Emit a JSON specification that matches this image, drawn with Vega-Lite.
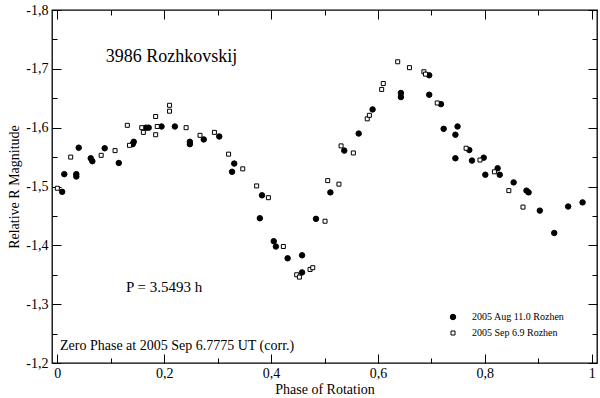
{
  "$schema": "https://vega.github.io/schema/vega-lite/v6.json",
  "width": 545,
  "height": 353,
  "autosize": {"type": "none"},
  "padding": {"left": 52, "top": 10, "right": 3, "bottom": 35},
  "background": "white",
  "config": {
    "view": {"stroke": "black", "strokeWidth": 1.3},
    "axis": {
      "domain": false,
      "grid": false,
      "labelFont": "Liberation Serif",
      "titleFont": "Liberation Serif",
      "labelFontSize": 14,
      "titleFontSize": 14,
      "titleFontWeight": "normal",
      "labelColor": "black",
      "titleColor": "black",
      "tickColor": "black",
      "tickWidth": 1
    },
    "legend": {
      "orient": "none",
      "legendX": 396,
      "legendY": 302,
      "padding": 0,
      "rowPadding": 6,
      "labelOffset": 14,
      "labelFont": "Liberation Serif",
      "labelFontSize": 10,
      "labelColor": "black",
      "symbolStrokeColor": "black",
      "symbolStrokeWidth": 1,
      "symbolOpacity": 1,
      "title": null
    }
  },
  "datasets": {
    "aug": [
      {"phase": 0.009, "mag": -1.491}, {"phase": 0.013, "mag": -1.521}, {"phase": 0.0355, "mag": -1.521}, {"phase": 0.0355, "mag": -1.517},
      {"phase": 0.040, "mag": -1.566}, {"phase": 0.0625, "mag": -1.548}, {"phase": 0.0655, "mag": -1.543}, {"phase": 0.0886, "mag": -1.565},
      {"phase": 0.115, "mag": -1.540}, {"phase": 0.141, "mag": -1.572}, {"phase": 0.143, "mag": -1.576}, {"phase": 0.166, "mag": -1.600},
      {"phase": 0.171, "mag": -1.600}, {"phase": 0.195, "mag": -1.602}, {"phase": 0.220, "mag": -1.602}, {"phase": 0.248, "mag": -1.576},
      {"phase": 0.248, "mag": -1.572}, {"phase": 0.274, "mag": -1.580}, {"phase": 0.303, "mag": -1.585}, {"phase": 0.327, "mag": -1.525},
      {"phase": 0.331, "mag": -1.539}, {"phase": 0.383, "mag": -1.485}, {"phase": 0.379, "mag": -1.446}, {"phase": 0.405, "mag": -1.407},
      {"phase": 0.409, "mag": -1.398}, {"phase": 0.431, "mag": -1.378}, {"phase": 0.458, "mag": -1.383}, {"phase": 0.458, "mag": -1.354},
      {"phase": 0.484, "mag": -1.445}, {"phase": 0.511, "mag": -1.490}, {"phase": 0.537, "mag": -1.561}, {"phase": 0.564, "mag": -1.590},
      {"phase": 0.590, "mag": -1.631}, {"phase": 0.643, "mag": -1.659}, {"phase": 0.643, "mag": -1.652}, {"phase": 0.696, "mag": -1.689},
      {"phase": 0.696, "mag": -1.656}, {"phase": 0.718, "mag": -1.640}, {"phase": 0.723, "mag": -1.598}, {"phase": 0.749, "mag": -1.602},
      {"phase": 0.745, "mag": -1.588}, {"phase": 0.745, "mag": -1.548}, {"phase": 0.771, "mag": -1.562}, {"phase": 0.776, "mag": -1.544},
      {"phase": 0.798, "mag": -1.549}, {"phase": 0.801, "mag": -1.520}, {"phase": 0.824, "mag": -1.531}, {"phase": 0.828, "mag": -1.520},
      {"phase": 0.854, "mag": -1.507}, {"phase": 0.878, "mag": -1.493}, {"phase": 0.882, "mag": -1.490}, {"phase": 0.903, "mag": -1.459},
      {"phase": 0.930, "mag": -1.421}, {"phase": 0.956, "mag": -1.466}, {"phase": 0.983, "mag": -1.473}
    ],
    "sep": [
      {"phase": 0.000, "mag": -1.497}, {"phase": 0.025, "mag": -1.550}, {"phase": 0.082, "mag": -1.553}, {"phase": 0.108, "mag": -1.561},
      {"phase": 0.131, "mag": -1.604}, {"phase": 0.135, "mag": -1.570}, {"phase": 0.158, "mag": -1.600}, {"phase": 0.161, "mag": -1.592},
      {"phase": 0.184, "mag": -1.619}, {"phase": 0.184, "mag": -1.588}, {"phase": 0.187, "mag": -1.602}, {"phase": 0.210, "mag": -1.638},
      {"phase": 0.210, "mag": -1.628}, {"phase": 0.241, "mag": -1.600}, {"phase": 0.267, "mag": -1.587}, {"phase": 0.294, "mag": -1.592},
      {"phase": 0.3205, "mag": -1.555}, {"phase": 0.347, "mag": -1.530}, {"phase": 0.373, "mag": -1.501}, {"phase": 0.395, "mag": -1.481},
      {"phase": 0.423, "mag": -1.398}, {"phase": 0.448, "mag": -1.350}, {"phase": 0.453, "mag": -1.346}, {"phase": 0.473, "mag": -1.359},
      {"phase": 0.478, "mag": -1.362}, {"phase": 0.501, "mag": -1.441}, {"phase": 0.506, "mag": -1.510}, {"phase": 0.527, "mag": -1.504},
      {"phase": 0.531, "mag": -1.569}, {"phase": 0.554, "mag": -1.557}, {"phase": 0.580, "mag": -1.615}, {"phase": 0.584, "mag": -1.621},
      {"phase": 0.607, "mag": -1.665}, {"phase": 0.610, "mag": -1.675}, {"phase": 0.637, "mag": -1.712}, {"phase": 0.659, "mag": -1.702},
      {"phase": 0.686, "mag": -1.695}, {"phase": 0.689, "mag": -1.691}, {"phase": 0.711, "mag": -1.642}, {"phase": 0.765, "mag": -1.565},
      {"phase": 0.791, "mag": -1.545}, {"phase": 0.818, "mag": -1.525}, {"phase": 0.845, "mag": -1.493}, {"phase": 0.8715, "mag": -1.465}
    ]
  },
  "layer": [
    {
      "data": {"name": "aug"},
      "mark": {"type": "point", "filled": true, "strokeWidth": 1, "opacity": 1},
      "encoding": {
        "x": {"field": "phase", "type": "quantitative",
          "scale": {"domain": [-0.01, 1.01], "nice": false, "zero": false},
          "axis": {"orient": "bottom", "values": [0, 0.2, 0.4, 0.6, 0.8, 1], "ticks": false, "labelPadding": 3,
            "labelExpr": "replace(format(datum.value, '~g'), '.', ',')", "title": "Phase of Rotation", "titlePadding": 2}},
        "y": {"field": "mag", "type": "quantitative",
          "scale": {"domain": [-1.8, -1.2], "nice": false, "zero": false, "reverse": true},
          "axis": {"orient": "left", "values": [-1.8, -1.7, -1.6, -1.5, -1.4, -1.3, -1.2], "ticks": false, "labelPadding": 4,
            "labelExpr": "(datum.value < 0 ? '-' : '') + replace(format(abs(datum.value), '.1f'), '.', ',')",
            "title": "Relative R Magnitude", "titlePadding": 4}},
        "shape": {"datum": "2005 Aug 11.0 Rozhen", "type": "nominal",
          "scale": {"domain": ["2005 Aug 11.0 Rozhen", "2005 Sep 6.9 Rozhen"], "range": ["circle", "square"]}},
        "fill": {"datum": "2005 Aug 11.0 Rozhen", "type": "nominal",
          "scale": {"domain": ["2005 Aug 11.0 Rozhen", "2005 Sep 6.9 Rozhen"], "range": ["black", "white"]}},
        "stroke": {"datum": "2005 Aug 11.0 Rozhen", "type": "nominal",
          "scale": {"domain": ["2005 Aug 11.0 Rozhen", "2005 Sep 6.9 Rozhen"], "range": ["black", "black"]}},
        "size": {"datum": "2005 Aug 11.0 Rozhen", "type": "nominal",
          "scale": {"domain": ["2005 Aug 11.0 Rozhen", "2005 Sep 6.9 Rozhen"], "range": [30, 16]}}
      }
    },
    {
      "data": {"name": "sep"},
      "mark": {"type": "point", "filled": true, "strokeWidth": 1, "opacity": 1},
      "encoding": {
        "x": {"field": "phase", "type": "quantitative",
          "scale": {"domain": [-0.01, 1.01], "nice": false, "zero": false},
          "axis": {"orient": "bottom", "values": [0, 0.2, 0.4, 0.6, 0.8, 1], "labels": false, "tickSize": -9, "title": null}},
        "y": {"field": "mag", "type": "quantitative",
          "scale": {"domain": [-1.8, -1.2], "nice": false, "zero": false, "reverse": true},
          "axis": {"orient": "left", "values": [-1.8, -1.7, -1.6, -1.5, -1.4, -1.3, -1.2], "labels": false, "tickSize": -9, "title": null}},
        "shape": {"datum": "2005 Sep 6.9 Rozhen", "type": "nominal",
          "scale": {"domain": ["2005 Aug 11.0 Rozhen", "2005 Sep 6.9 Rozhen"], "range": ["circle", "square"]}},
        "fill": {"datum": "2005 Sep 6.9 Rozhen", "type": "nominal",
          "scale": {"domain": ["2005 Aug 11.0 Rozhen", "2005 Sep 6.9 Rozhen"], "range": ["black", "white"]}},
        "stroke": {"datum": "2005 Sep 6.9 Rozhen", "type": "nominal",
          "scale": {"domain": ["2005 Aug 11.0 Rozhen", "2005 Sep 6.9 Rozhen"], "range": ["black", "black"]}},
        "size": {"datum": "2005 Sep 6.9 Rozhen", "type": "nominal",
          "scale": {"domain": ["2005 Aug 11.0 Rozhen", "2005 Sep 6.9 Rozhen"], "range": [30, 16]}}
      }
    },
    {
      "data": {"values": [{"label": "3986 Rozhkovskij", "phase": 0.2136, "mag": -1.7116}]},
      "mark": {"type": "text", "font": "Liberation Serif", "fontSize": 18, "align": "center", "baseline": "alphabetic", "color": "black"},
      "encoding": {
        "text": {"field": "label"},
        "x": {"field": "phase", "type": "quantitative",
          "scale": {"domain": [-0.01, 1.01], "nice": false, "zero": false},
          "axis": {"orient": "bottom", "values": [0.1, 0.3, 0.5, 0.7, 0.9], "labels": false, "tickSize": -5, "title": null}},
        "y": {"field": "mag", "type": "quantitative",
          "scale": {"domain": [-1.8, -1.2], "nice": false, "zero": false, "reverse": true},
          "axis": {"orient": "left", "values": [-1.75, -1.65, -1.55, -1.45, -1.35, -1.25], "labels": false, "tickSize": -5, "title": null}}
      }
    },
    {
      "data": {"values": [{"label": "P = 3.5493 h", "phase": 0.1285, "mag": -1.320}]},
      "mark": {"type": "text", "font": "Liberation Serif", "fontSize": 15, "align": "left", "baseline": "alphabetic", "color": "black"},
      "encoding": {
        "text": {"field": "label"},
        "x": {"field": "phase", "type": "quantitative",
          "scale": {"domain": [-0.01, 1.01], "nice": false, "zero": false},
          "axis": {"orient": "top", "values": [0, 0.2, 0.4, 0.6, 0.8, 1], "labels": false, "tickSize": -9, "title": null}},
        "y": {"field": "mag", "type": "quantitative",
          "scale": {"domain": [-1.8, -1.2], "nice": false, "zero": false, "reverse": true},
          "axis": {"orient": "right", "values": [-1.8, -1.7, -1.6, -1.5, -1.4, -1.3, -1.2], "labels": false, "tickSize": -9, "title": null}}
      }
    },
    {
      "data": {"values": [{"label": "Zero Phase at 2005 Sep 6.7775 UT (corr.)", "phase": 0.005, "mag": -1.2214}]},
      "mark": {"type": "text", "font": "Liberation Serif", "fontSize": 14, "align": "left", "baseline": "alphabetic", "color": "black"},
      "encoding": {
        "text": {"field": "label"},
        "x": {"field": "phase", "type": "quantitative",
          "scale": {"domain": [-0.01, 1.01], "nice": false, "zero": false},
          "axis": {"orient": "top", "values": [0.1, 0.3, 0.5, 0.7, 0.9], "labels": false, "tickSize": -5, "title": null}},
        "y": {"field": "mag", "type": "quantitative",
          "scale": {"domain": [-1.8, -1.2], "nice": false, "zero": false, "reverse": true},
          "axis": {"orient": "right", "values": [-1.75, -1.65, -1.55, -1.45, -1.35, -1.25], "labels": false, "tickSize": -5, "title": null}}
      }
    }
  ],
  "resolve": {"axis": {"x": "independent", "y": "independent"}}
}
